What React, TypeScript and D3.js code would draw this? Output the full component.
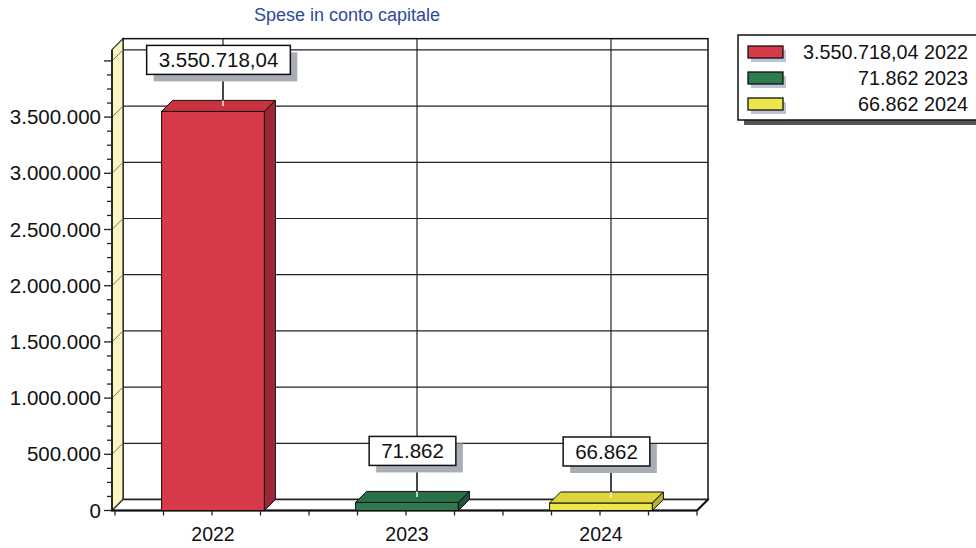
import React from "react";
import * as d3 from "d3";

const title = "Spese in conto capitale";
const categories = ["2022", "2023", "2024"];
const values = [3550718.04, 71862, 66862];
const valueLabels = ["3.550.718,04", "71.862", "66.862"];
const legendLabels = ["3.550.718,04 2022", "71.862 2023", "66.862 2024"];
const yTicks = [0, 500000, 1000000, 1500000, 2000000, 2500000, 3000000, 3500000, 4000000];
const yLabelTicks = [0, 500000, 1000000, 1500000, 2000000, 2500000, 3000000, 3500000];

const frontColors = ["#d73a48", "#2c7a4e", "#ede64a"];
const topColors = ["#c9323f", "#2a6f47", "#ddd43e"];
const sideColors = ["#9c2836", "#1f5535", "#b8b030"];

const locale = d3.formatLocale({ decimal: ",", thousands: ".", grouping: [3], currency: ["", ""] });
const fmt = locale.format(",.0f");

const W = 976;
const H = 548;
const DX = 11;
const DY = -11;
const FONT = "Arial, 'Liberation Sans', sans-serif";

function textWidth(s: string, size: number) {
  let w = 0;
  for (const c of s) {
    if (c === "." || c === "," || c === " ") w += 0.278;
    else w += 0.556;
  }
  return w * size;
}

export default function App() {
  const x = d3.scaleBand<string>().domain(categories).range([115, 697]).padding(0);
  const y = d3.scaleLinear().domain([0, 4000000]).range([510.5, 60.9]);
  const step = x.step();
  const barW = step * 0.53;
  const y0 = y(0);
  const wallTop = y(4100000);
  const xl = 112;
  const xr = 697;

  const minorY = d3.range(0, 4000001, 125000);
  const minorX = d3.range(0, categories.length * 4 + 1).map((i) => 115 + (i * step) / 4);

  return (
    <svg width={W} height={H} style={{ position: "absolute", left: 0, top: 0, background: "#fff" }} fontFamily={FONT}>
      <rect x={0} y={0} width={W} height={H} fill="#ffffff" />
      {/* title */}
      <text x={347} y={21} textAnchor="middle" fontSize={18} fill="#2b4a9c">
        {title}
      </text>

      {/* back wall */}
      <rect x={xl + DX} y={wallTop + DY} width={xr - xl} height={y0 - wallTop} fill="#ffffff" stroke="#111" strokeWidth={1.5} />
      {/* left wall */}
      <polygon
        points={`${xl},${y0} ${xl + DX},${y0 + DY} ${xl + DX},${wallTop + DY} ${xl},${wallTop}`}
        fill="#fbf5c2"
        stroke="#222"
        strokeWidth={1.2}
      />
      {/* floor */}
      <polygon
        points={`${xl},${y0} ${xl + DX},${y0 + DY} ${xr + DX},${y0 + DY} ${xr},${y0}`}
        fill="#ffffff"
        stroke="#111"
        strokeWidth={1.5}
      />
      {/* horizontal gridlines */}
      {yTicks.map((t) => (
        <g key={"g" + t}>
          <line x1={xl + DX} x2={xr + DX} y1={y(t) + DY} y2={y(t) + DY} stroke="#222" strokeWidth={1.2} />
          <line x1={xl} x2={xl + DX} y1={y(t)} y2={y(t) + DY} stroke="#777" strokeWidth={1} />
        </g>
      ))}
      {/* vertical gridlines */}
      {categories.map((c) => (
        <line
          key={"v" + c}
          x1={(x(c) as number) + step / 2 + DX}
          x2={(x(c) as number) + step / 2 + DX}
          y1={wallTop + DY}
          y2={y0 + DY}
          stroke="#222"
          strokeWidth={1.2}
        />
      ))}

      {/* front axes */}
      <line x1={xl} x2={xl} y1={y0} y2={wallTop} stroke="#111" strokeWidth={1.5} />
      <line x1={xl} x2={xr} y1={y0} y2={y0} stroke="#111" strokeWidth={2} />
      <line x1={xr} x2={xr + DX} y1={y0} y2={y0 + DY} stroke="#111" strokeWidth={2} />
      {minorY.map((t) => (
        <line key={"my" + t} x1={t % 500000 === 0 ? xl - 8 : xl - 5} x2={xl} y1={y(t)} y2={y(t)} stroke="#222" strokeWidth={1.3} />
      ))}
      {minorX.map((v, i) => (
        <line key={"mx" + i} x1={v} x2={v} y1={y0} y2={y0 + 5} stroke="#222" strokeWidth={1.3} />
      ))}
      {yLabelTicks.map((t) => (
        <text key={"yl" + t} x={xl - 11} y={y(t) + 7} textAnchor="end" fontSize={20.5} fill="#111">
          {fmt(t)}
        </text>
      ))}
      {categories.map((c) => (
        <text key={"xl" + c} x={(x(c) as number) + step / 2 + 1} y={541} textAnchor="middle" fontSize={19.5} fill="#111">
          {c}
        </text>
      ))}

      {/* bars */}
      {categories.map((c, i) => {
        const cx = (x(c) as number) + step / 2 + 1;
        const x0 = cx - barW / 2;
        const x1 = cx + barW / 2;
        const yv = y(values[i]);
        return (
          <g key={"b" + c}>
            <rect x={x0} y={yv} width={x1 - x0} height={y0 - yv} fill={frontColors[i]} stroke="#111" strokeWidth={1} />
            <polygon
              points={`${x0},${yv} ${x0 + DX},${yv + DY} ${x1 + DX},${yv + DY} ${x1},${yv}`}
              fill={topColors[i]}
              stroke="#111"
              strokeWidth={1}
            />
            <polygon
              points={`${x1},${yv} ${x1 + DX},${yv + DY} ${x1 + DX},${y0 + DY} ${x1},${y0}`}
              fill={sideColors[i]}
              stroke="#111"
              strokeWidth={1}
            />
          </g>
        );
      })}

      {/* value labels */}
      {categories.map((c, i) => {
        const cx = (x(c) as number) + step / 2 + 1 + DX / 2;
        const lx = (x(c) as number) + step / 2 + DX;
        const yv = y(values[i]);
        const topY = yv + DY;
        const bw = textWidth(valueLabels[i], 20.5) + 24;
        const bh = 29;
        const by = topY - 26 - bh;
        return (
          <g key={"lab" + c}>
            <line x1={lx} x2={lx} y1={by + bh + 7} y2={topY} stroke="#222" strokeWidth={1.2} />
            <line x1={lx} x2={lx} y1={topY} y2={yv + DY / 2} stroke="#f4f4f4" strokeWidth={1.5} />
            <rect x={cx - bw / 2 + 7} y={by + 7} width={bw} height={bh} fill="#a9adb6" />
            <rect x={cx - bw / 2} y={by} width={bw} height={bh} fill="#ffffff" stroke="#111" strokeWidth={1.5} />
            <text x={cx} y={by + bh / 2 + 7.5} textAnchor="middle" fontSize={20.5} fill="#111">
              {valueLabels[i]}
            </text>
          </g>
        );
      })}

      {/* legend */}
      <rect x={744} y={40} width={250} height={85} fill="#555" />
      <rect x={738} y={35} width={250} height={85} fill="#ffffff" stroke="#111" strokeWidth={1.5} />
      {legendLabels.map((l, i) => {
        const cy = 52 + i * 26;
        return (
          <g key={"lg" + i}>
            <rect x={751} y={cy - 2} width={35} height={12} fill="#bcc3d8" />
            <rect x={748} y={cy - 6} width={35} height={12} fill={frontColors[i]} stroke="#111" strokeWidth={1.3} />
            <text x={968} y={cy + 7} textAnchor="end" fontSize={19.8} fill="#111">
              {l}
            </text>
          </g>
        );
      })}
    </svg>
  );
}
